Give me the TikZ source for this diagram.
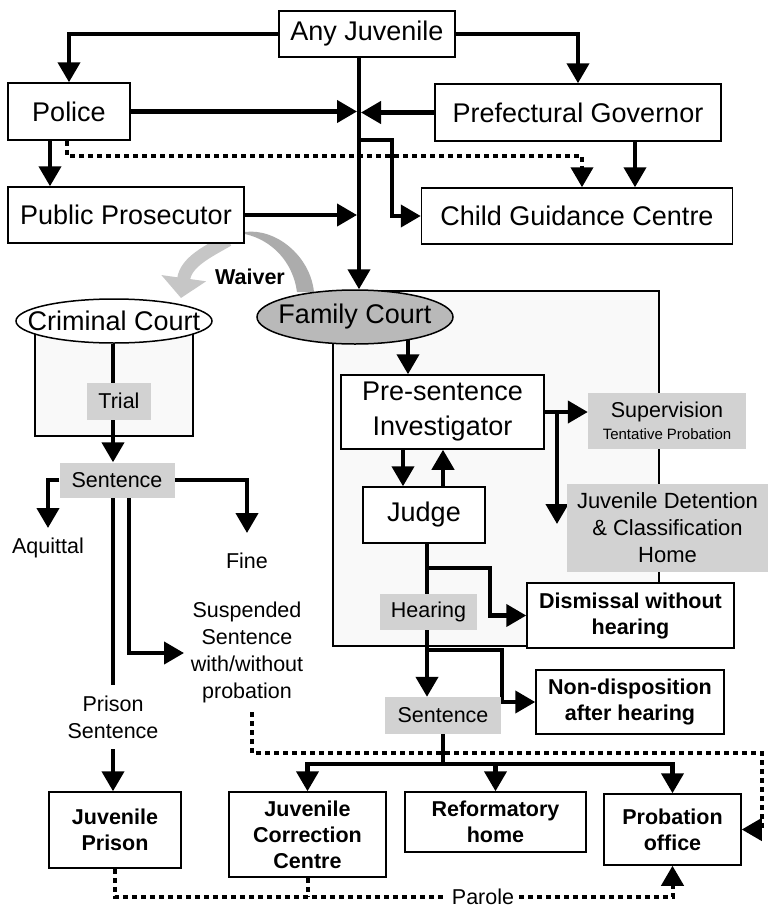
\documentclass[tikz,border=0pt]{standalone}
\usepackage{fontspec}
\setmainfont{Liberation Sans}
\usetikzlibrary{arrows.meta,shapes.geometric,calc}
\pgfdeclarelayer{back}
\pgfdeclarelayer{mid}
\pgfsetlayers{back,mid,main}
\newcommand\bigf{\fontsize{27}{34}\selectfont}
\newcommand\smf{\fontsize{21.5}{27}\selectfont}
\newcommand\bdf{\fontsize{21.5}{26}\selectfont\bfseries}
\tikzset{
 box/.style={draw, line width=1.5pt, fill=white, inner sep=0pt, align=center},
 bigbox/.style={box, font=\bigf},
 bbox/.style={box, font=\bdf},
 gbox/.style={fill=gray!35, inner sep=0pt, align=center, font=\smf},
 lab/.style={inner sep=0pt, align=center, font=\smf},
 arr/.style={line width=4.2pt, -{Triangle[length=20pt,width=22pt]}},
 ln/.style={line width=4.2pt},
 dotl/.style={line width=4pt, dash pattern=on 5pt off 4pt},
 dotarr/.style={dotl, -{Triangle[length=20pt,width=22pt]}},
}
\begin{document}
\begin{tikzpicture}[x=1pt,y=-1pt]
\useasboundingbox (0,0) rectangle (768,908);
\begin{pgfonlayer}{back}
\fill[white] (0,0) rectangle (768,908);
\draw[line width=1.5pt, fill=gray!5] (35,321) rectangle (193,436);
\draw[line width=1.5pt, fill=gray!5] (333,291) rectangle (659,646);
\end{pgfonlayer}

% top nodes
\node[bigbox, minimum width=176pt, minimum height=46pt] (aj) at (367,34) {Any Juvenile};
\node[bigbox, minimum width=122pt, minimum height=57pt] (police) at (69,111.5) {Police};
\node[bigbox, minimum width=286pt, minimum height=57pt] (gov) at (578,112.5) {Prefectural Governor};
\node[bigbox, minimum width=236pt, minimum height=56pt] (pp) at (126,215) {Public Prosecutor};
\node[bigbox, minimum width=311pt, minimum height=56pt] (cgc) at (577,216) {Child Guidance Centre};

% courts
\node[draw, ellipse, line width=1.5pt, fill=white, minimum width=196pt, minimum height=44pt, inner sep=0pt] (cc) at (114,321) {};
\node[font=\bigf, inner sep=0pt] (cct) at (cc) {Criminal Court};
\node[draw, ellipse, line width=1.5pt, fill=gray!55, minimum width=196pt, minimum height=54pt, inner sep=0pt] (fc) at (355,317) {};
\node[font=\bigf, inner sep=0pt] (fct) at (fc) {Family Court};
\node[font=\bdf, inner sep=0pt] (wv) at (250,277) {Waiver};

% criminal side
\node[gbox, minimum width=64pt, minimum height=37pt] (trial) at (119,401) {Trial};
\node[gbox, minimum width=115pt, minimum height=35pt] (sentL) at (117,480) {Sentence};
\coordinate (aqt) at (48,528);
\node[lab] (aq) at (48,548) {Aquittal};
\coordinate (fnt) at (247,533);
\node[lab] (fine) at (247,561) {Fine};
\node[lab] (susp) at (247,652) {Suspended\\Sentence\\with/without\\probation};
\coordinate (spt) at (184,653);
\node[lab, minimum height=64pt] (ps) at (113,717) {Prison\\Sentence};

% bottom boxes
\node[bbox, minimum width=132pt, minimum height=76pt] (jp) at (115,830) {Juvenile\\Prison};
\node[bbox, minimum width=157pt, minimum height=85pt] (jcc) at (307.5,834.5) {Juvenile\\Correction\\Centre};
\node[bbox, minimum width=181pt, minimum height=60pt] (ref) at (495.5,822) {Reformatory\\home};
\node[bbox, minimum width=137pt, minimum height=71pt] (po) at (672.5,829.5) {Probation\\office};

% family side
\node[bigbox, minimum width=203pt, minimum height=74pt, font=\fontsize{27}{35}\selectfont] (psi) at (442.5,412) {Pre-sentence\\Investigator};
\node[gbox, minimum width=158pt, minimum height=56pt] (sup) at (667,421) {Supervision\\[-5pt]{\fontsize{15}{18}\selectfont Tentative Probation}};
\node[gbox, minimum width=201pt, minimum height=88pt, font=\fontsize{22}{27}\selectfont] (jdc) at (667.5,528) {Juvenile Detention\\\& Classification\\Home};
\node[bigbox, minimum width=122pt, minimum height=56pt] (judge) at (424,515) {Judge};
\node[gbox, minimum width=97pt, minimum height=36pt] (hear) at (428.5,612) {Hearing};
\node[bbox, minimum width=207pt, minimum height=65pt] (dis) at (630.5,615.5) {Dismissal without\\hearing};
\node[gbox, minimum width=116pt, minimum height=37pt] (sentR) at (443,715.5) {Sentence};
\node[bbox, minimum width=188pt, minimum height=64pt] (nd) at (630,702) {Non-disposition\\after hearing};
\node[lab, fill=white, inner xsep=5pt, inner ysep=2pt] (par) at (483,897) {Parole};

\begin{pgfonlayer}{mid}
\coordinate (cx) at (359,0);
\coordinate (cxl) at (357,0);
\coordinate (cxr) at (361,0);
\draw[arr] (aj.west) -| (police.north);
\draw[arr] (aj.east) -| (gov.north);
\draw[arr] (aj.south -| cx) -- (fc.north -| cx);
\draw[arr] (police.east) -- (police.east -| cxl);
\draw[arr] (gov.west) -- (gov.west -| cxr);
\draw[arr] (pp.east) -- (pp.east -| cxl);
\coordinate (b1) at (359,140);
\coordinate (xb) at (392,0);
\draw[arr] (b1) -| (xb |- cgc.west) -- (cgc.west);
\coordinate (xp) at (50,0);
\draw[arr] (police.south -| xp) -- (pp.north -| xp);
\coordinate (xg) at (635,0);
\draw[arr] (gov.south -| xg) -- (cgc.north -| xg);
\coordinate (xq) at (582,0);
\draw[dotarr] ([xshift=-2pt]police.south) -- ++(0,15) -| (cgc.north -| xq);

% waiver
\fill[gray!65] (245,232) .. controls (275,228) and (310,255) .. (314,292) -- (297,292) .. controls (293,262) and (272,240) .. (245,234) -- cycle;
\draw[line width=13pt, gray!45, -{Triangle[length=20pt,width=44pt]}] (228,240) .. controls (207,252) and (186,262) .. (181,298);

% criminal
\coordinate (xc) at (113,0);
\coordinate (xs2) at (129,0);
\draw[arr] (cc.south -| xc) -- (sentL.north -| xc);
\draw[arr] (sentL.west) -| (aqt);
\draw[arr] (sentL.east) -| (fnt);
\draw[ln] (sentL.south -| xc) -- (ps.north);
\draw[arr] (ps.south) -- (ps.south |- jp.north);
\draw[arr] (sentL.south -| xs2) |- (spt);
\coordinate (d0) at (252,712);
\coordinate (d1) at (762,753);
\draw[dotarr] (d0) |- (d1) |- (po.east);

% family
\coordinate (fcb) at (408,335);
\draw[arr] (fcb) -- (fcb |- psi.north);
\coordinate (xa) at (403,0);
\coordinate (xb2) at (443,0);
\draw[arr] (psi.south -| xa) -- (judge.north -| xa);
\draw[arr] (judge.north -| xb2) -- (psi.south -| xb2);
\draw[arr] (psi.east) -- (psi.east -| sup.west);
\coordinate (xd) at (557,0);
\coordinate (jdt) at (557,524);
\draw[arr] (psi.east -| xd) -- (jdt);
\coordinate (xh) at (427,0);
\draw[arr] (judge.south -| xh) -- (sentR.north -| xh);
\coordinate (j1) at (427,568);
\coordinate (xj1) at (490,0);
\draw[arr] (j1) -| (xj1 |- dis.west) -- (dis.west);
\coordinate (j2) at (427,650);
\coordinate (xj2) at (502,0);
\draw[arr] (j2) -| (xj2 |- nd.west) -- (nd.west);
\coordinate (bar) at (0,764);
\draw[ln] (sentR.south) -- (sentR.south |- bar);
\draw[arr] (sentR.south |- bar) -| (jcc.north);
\draw[arr] (sentR.south |- bar) -| (ref.north);
\draw[arr] (sentR.south |- bar) -| (po.north);
\coordinate (pl) at (0,897);
\draw[dotarr] (jp.south) |- (po.south |- pl) -- (po.south);
\draw[dotl] (jcc.south) -- (jcc.south |- pl);
\end{pgfonlayer}
\end{tikzpicture}
\end{document}
